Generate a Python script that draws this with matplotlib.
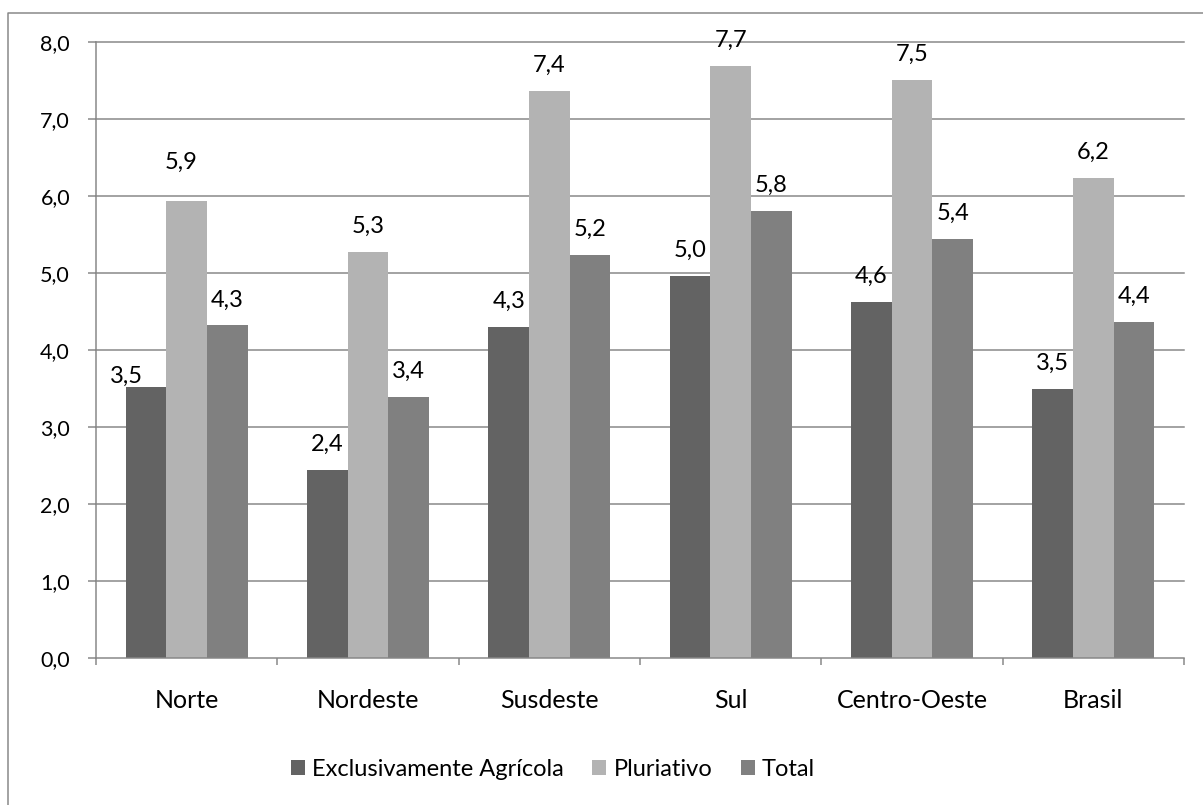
import matplotlib
matplotlib.use("Agg")
import matplotlib.pyplot as plt
from matplotlib.lines import Line2D
from matplotlib.ticker import FuncFormatter
import numpy as np

# Regions and average values per group of households
regions = ["Norte", "Nordeste", "Susdeste", "Sul", "Centro-Oeste", "Brasil"]
series_names = ["Exclusivamente Agrícola", "Pluriativo", "Total"]
exclusivamente_agricola = [3.52, 2.44, 4.30, 4.96, 4.62, 3.49]
pluriativo = [5.94, 5.27, 7.36, 7.69, 7.51, 6.24]
total = [4.32, 3.39, 5.24, 5.81, 5.44, 4.37]
y_ticks = [0, 1, 2, 3, 4, 5, 6, 7, 8]

plt.rcParams['font.family'] = ['Lato', 'DejaVu Sans']

W, H, DPI = 1203, 805, 100
GRAY = "#868686"
colors = ["#636363", "#b3b3b3", "#808080"]


def px(v):
    """Convert pixels to points."""
    return v * 72.0 / DPI


fig = plt.figure(figsize=(W / DPI, H / DPI), dpi=DPI)
fig.patch.set_facecolor("white")

# outer chart frame (left and top edges)
fig.add_artist(Line2D([8 / W, 8 / W, 1.01], [-0.01, 1 - 13 / H, 1 - 13 / H],
                      transform=fig.transFigure, color=GRAY, lw=px(1.5)))

ax = fig.add_axes([96 / W, (H - 658) / H, (1184 - 96) / W, (658 - 42) / H])
ax.set_xlim(0, len(regions))
ax.set_ylim(0, 8)

# horizontal gridlines
for t in y_ticks[1:]:
    ax.axhline(t, color=GRAY, lw=px(1.5), zorder=0.5, clip_on=False)

bw = 0.224
centers = np.arange(len(regions)) + 0.5
all_series = [exclusivamente_agricola, pluriativo, total]
bars = []
for i, (vals, name, c) in enumerate(zip(all_series, series_names, colors)):
    b = ax.bar(centers + (i - 1) * bw, vals, width=bw, color=c,
               label=name, zorder=2, linewidth=0)
    bars.append(b)

# value labels (a couple are nudged to keep clear of neighbours)
nudges = {(0, 0): (-20, -15), (0, 1): (-6, 13)}
for i, vals in enumerate(all_series):
    for j, v in enumerate(vals):
        dx, dy = nudges.get((j, i), (0, 0))
        ax.annotate(f"{v:.1f}".replace(".", ","),
                    xy=(centers[j] + (i - 1) * bw, v),
                    xytext=(px(dx), px(19 + dy)), textcoords="offset points",
                    ha="center", va="baseline", fontsize=17, color="black",
                    zorder=3)

# spines
for s in ["top", "right"]:
    ax.spines[s].set_visible(False)
for s in ["left", "bottom"]:
    ax.spines[s].set_color(GRAY)
    ax.spines[s].set_linewidth(px(1.5))
    ax.spines[s].set_zorder(2.5)

# y axis
ax.set_yticks(y_ticks)
ax.yaxis.set_major_formatter(FuncFormatter(lambda v, p: f"{v:.1f}".replace(".", ",")))
ax.tick_params(axis="y", length=px(8), width=px(1.5), color=GRAY, pad=px(18),
               labelsize=15.5, labelcolor="black")

# x axis: ticks on category boundaries, labels on centres
ax.set_xticks(np.arange(len(regions) + 1))
ax.set_xticklabels([])
ax.tick_params(axis="x", length=px(7), width=px(1.5), color=GRAY)
for j, r in enumerate(regions):
    ax.annotate(r, xy=(centers[j], 0), xycoords=ax.get_xaxis_transform(),
                xytext=(0, -px(50)), textcoords="offset points",
                ha="center", va="baseline", fontsize=18, color="black")

fig.legend(handles=bars, labels=series_names, loc="center",
           bbox_to_anchor=(553 / W, 1 - 769 / H), ncol=3, frameon=False,
           fontsize=17, handlelength=0.6, handleheight=0.6,
           handletextpad=0.3, columnspacing=1.2)

fig.savefig("out.png", dpi=DPI, facecolor="white")
